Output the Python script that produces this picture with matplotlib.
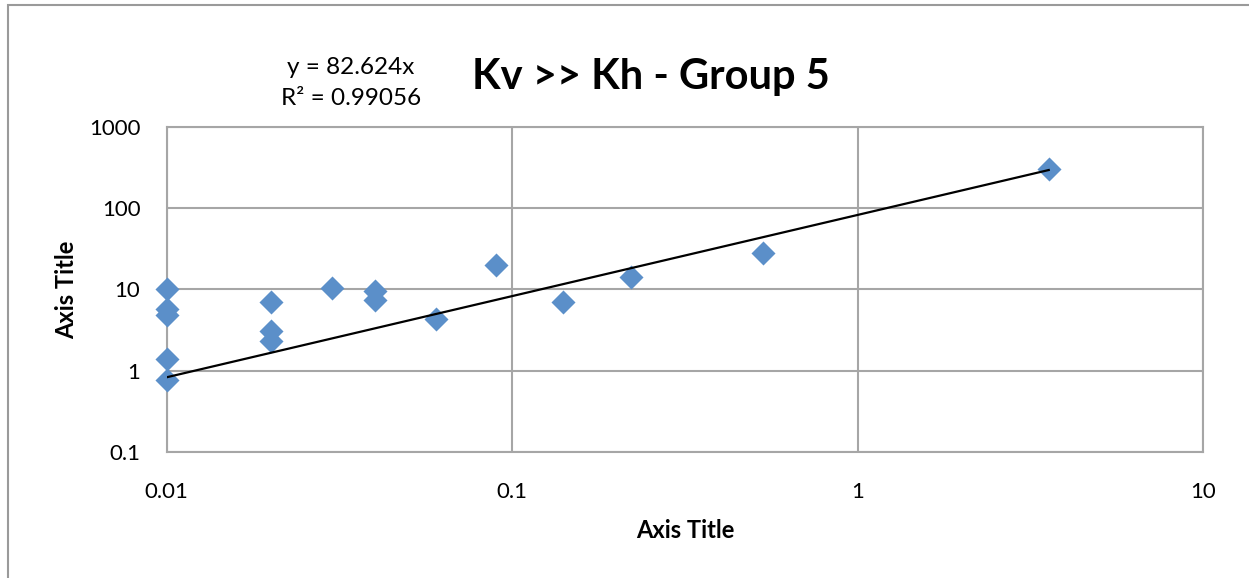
import numpy as np
import matplotlib.pyplot as plt
from matplotlib.ticker import FixedLocator, FixedFormatter, NullLocator

plt.rcParams['font.family'] = ['Lato', 'DejaVu Sans']

# Kh vs Kv measurements, group 5
kh = [0.01, 0.01, 0.01, 0.01, 0.01, 0.02, 0.02, 0.02, 0.03, 0.04, 0.04,
      0.06, 0.09, 0.14, 0.22, 0.53, 3.57]
kv = [10.1, 5.8, 4.8, 1.37, 0.76, 6.9, 3.1, 2.3, 10.5, 9.5, 7.4,
      4.27, 20.0, 7.0, 14.3, 27.7, 300.0]

slope = 82.624
r2 = 0.99056

x_ticks = [0.01, 0.1, 1, 10]
x_tick_labels = ['0.01', '0.1', '1', '10']
y_ticks = [0.1, 1, 10, 100, 1000]
y_tick_labels = ['0.1', '1', '10', '100', '1000']

grid_grey = '#a6a6a6'
marker_blue = '#5b8fc9'

fig = plt.figure(figsize=(12.49, 5.78), dpi=100)
ax = fig.add_axes([0.1335, 0.2185, 0.8299, 0.5618])

ax.scatter(kh, kv, marker='D', s=150, color=marker_blue, zorder=3,
           linewidths=0, clip_on=False)

# linear trendline through origin
tx = np.geomspace(min(kh), max(kh), 50)
ax.plot(tx, slope * tx, color='black', lw=1.6, zorder=4)

ax.set_xscale('log')
ax.set_yscale('log')
ax.set_xlim(0.01, 10)
ax.set_ylim(0.1, 1000)
ax.xaxis.set_major_locator(FixedLocator(x_ticks))
ax.xaxis.set_major_formatter(FixedFormatter(x_tick_labels))
ax.yaxis.set_major_locator(FixedLocator(y_ticks))
ax.yaxis.set_major_formatter(FixedFormatter(y_tick_labels))
ax.xaxis.set_minor_locator(NullLocator())
ax.yaxis.set_minor_locator(NullLocator())
ax.tick_params(length=0, labelsize=16)
ax.tick_params(axis='x', pad=22)
ax.tick_params(axis='y', pad=19)
ax.grid(True, color=grid_grey, lw=1.5, zorder=0)
ax.set_axisbelow(True)
for sp in ax.spines.values():
    sp.set_color(grid_grey)
    sp.set_linewidth(1.5)

ax.set_xlabel('Axis Title', fontsize=17, fontweight='bold', labelpad=12)
ax.set_ylabel('Axis Title', fontsize=17, fontweight='bold', labelpad=8)

fig.text(0.521, 0.867, 'Kv >> Kh - Group 5', fontsize=30, fontweight='bold',
         ha='center', va='center')
fig.text(0.281, 0.884, f'y = {slope}x', fontsize=17.5, ha='center', va='center')
fig.text(0.281, 0.830, f'R\u00b2 = {r2}', fontsize=17.5, ha='center', va='center')

# chart frame
frame = plt.Rectangle((8 / 1249, -0.1), 1.2, 1.1 - 5 / 578, transform=fig.transFigure,
                      fill=False, edgecolor='#9a9a9a', lw=1.5)
fig.add_artist(frame)

fig.savefig('out.png', dpi=100)
